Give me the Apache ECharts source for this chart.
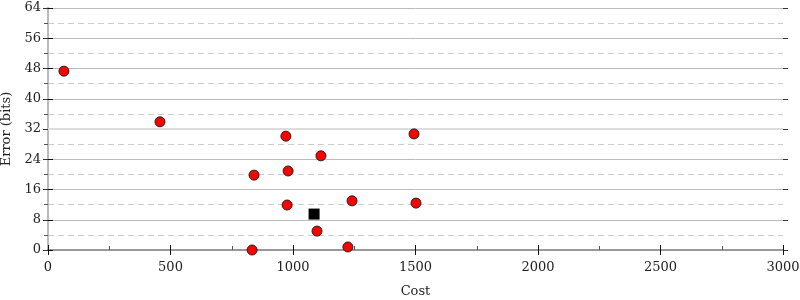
<!DOCTYPE html>
<html><head><meta charset="utf-8">
<script src="https://cdn.jsdelivr.net/npm/echarts@6/dist/echarts.min.js"></script>
<style>html,body{margin:0;padding:0;background:#fff}#c{width:800px;height:300px}</style>
</head><body><div id="c"></div>
<script>
const costs = [65, 457, 971, 1494, 1114, 841, 980, 976, 1241, 1502, 1098, 833, 1224];
const errors = [47.3, 33.9, 30.1, 30.7, 24.9, 19.8, 20.9, 11.9, 13.0, 12.4, 5.0, 0.0, 0.8];
const refCost = [1086];
const refError = [9.5];
const xTicks = [0, 500, 1000, 1500, 2000, 2500, 3000];
const yTicks = [0, 8, 16, 24, 32, 40, 48, 56, 64];

const font = 'DejaVu Serif';
const pts = costs.map((c, i) => [c, errors[i]]);
const ref = refCost.map((c, i) => [c, refError[i]]);

const chart = echarts.init(document.getElementById('c'));
const xBase = {type:'value', min:0, max:3000, interval:500, gridIndex:0};
const yBase = {type:'value', min:0, max:64, interval:8, gridIndex:0};
chart.setOption({
  animation:false,
  grid:{left:48, right:17, top:8, bottom:50, containLabel:false, outerBoundsMode:'none'},
  xAxis:[
    Object.assign({}, xBase, {
      position:'bottom', name:'Cost', nameLocation:'middle', nameGap:35,
      nameTextStyle:{fontFamily:font, fontSize:13, color:'#222'},
      axisLine:{show:true, lineStyle:{color:'#999', width:2}},
      axisTick:{show:true, length:5, inside:false, lineStyle:{color:'#111'}},
      minorTick:{show:false},
      axisLabel:{fontFamily:font, fontSize:13, color:'#222', margin:11,
        formatter:v => xTicks.includes(v) ? String(v) : ''},
      splitLine:{show:false}
    }),
    Object.assign({}, xBase, {
      position:'bottom',
      axisLine:{show:false},
      axisTick:{show:true, length:5, inside:true, lineStyle:{color:'#111'}},
      minorTick:{show:true, splitNumber:2, length:4, lineStyle:{color:'#555'}},
      axisLabel:{show:false}, splitLine:{show:false}
    }),
    Object.assign({}, xBase, {
      position:'top',
      axisLine:{show:true, lineStyle:{color:'#999', width:2}},
      axisTick:{show:false}, axisLabel:{show:false}, splitLine:{show:false}
    })
  ],
  yAxis:[
    Object.assign({}, yBase, {
      position:'left', name:'Error (bits)', nameLocation:'middle', nameGap:33,
      nameTextStyle:{fontFamily:font, fontSize:13, color:'#222'},
      axisLine:{show:true, lineStyle:{color:'#bbb', width:2}},
      axisTick:{show:true, length:5, lineStyle:{color:'#111'}},
      minorTick:{show:true, splitNumber:2, length:4, lineStyle:{color:'#555'}},
      axisLabel:{fontFamily:font, fontSize:13, color:'#222', margin:7,
        formatter:v => yTicks.includes(v) ? String(v) : ''},
      splitLine:{show:true, lineStyle:{color:'#bbb', width:1}},
      minorSplitLine:{show:true, lineStyle:{color:'#ccc', width:1, type:[6,4]}}
    }),
    Object.assign({}, yBase, {
      position:'left',
      axisLine:{show:false},
      axisTick:{show:true, inside:true, length:5, lineStyle:{color:'#111'}},
      axisLabel:{show:false}, splitLine:{show:false}
    }),
    Object.assign({}, yBase, {
      position:'right',
      axisLine:{show:true, lineStyle:{color:'#bbb', width:2}},
      axisTick:{show:true, inside:true, length:5, lineStyle:{color:'#333'}},
      minorTick:{show:true, splitNumber:2, length:3, lineStyle:{color:'#555'}},
      axisLabel:{show:false}, splitLine:{show:false}
    }),
    Object.assign({}, yBase, {
      position:'right',
      axisLine:{show:false},
      axisTick:{show:true, inside:false, length:5, lineStyle:{color:'#333'}},
      axisLabel:{show:false}, splitLine:{show:false}
    })
  ],
  series:[
    {type:'scatter', data:pts, symbol:'circle', symbolSize:10,
     itemStyle:{color:'#ff0000', borderColor:'#222', borderWidth:1, opacity:1},
     markLine:{silent:true, symbol:'none', label:{show:false},
       lineStyle:{color:'#ddd', width:2, type:'solid'}, data:[{yAxis:32}]},
     z:5},
    {type:'scatter', data:ref, symbol:'rect', symbolSize:11,
     itemStyle:{color:'#000', opacity:1}, z:6}
  ]
});
</script></body></html>
